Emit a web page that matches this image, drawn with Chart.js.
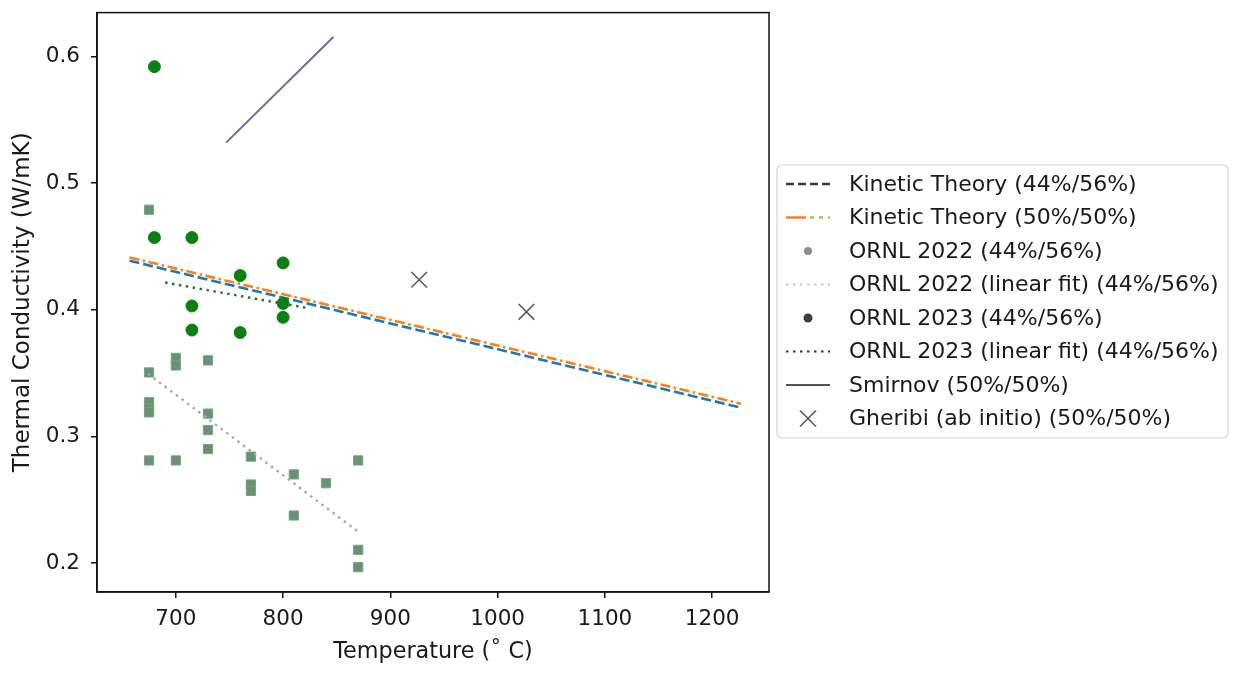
<!DOCTYPE html>
<html>
<head>
<meta charset="utf-8">
<script src="https://cdn.jsdelivr.net/npm/chart.js@4.4.0/dist/chart.umd.min.js"></script>
<style>
  body { margin: 0; background: #fff; }
</style>
</head>
<body>
<canvas id="chart" width="1233" height="673"></canvas>
<script>
// values (temperature in deg C, conductivity in W/mK)
const kineticT = [656.85, 1226.85];
const kinetic4456 = [0.4387, 0.3227];
const kinetic5050 = [0.4413, 0.3258];

const ornl2022T = [675, 675, 675, 675, 675, 675, 700, 700, 700, 730, 730, 730, 730, 770, 770, 770, 810, 810, 840, 870, 870, 870];
const ornl2022K = [0.479, 0.3505, 0.327, 0.322, 0.319, 0.281, 0.362, 0.356, 0.281, 0.360, 0.318, 0.305, 0.290, 0.284, 0.262, 0.257, 0.270, 0.2375, 0.263, 0.281, 0.2104, 0.1967];
const ornl2022FitT = [674, 870];
const ornl2022FitK = [0.3495, 0.2247];

const ornl2023T = [680, 680, 715, 715, 715, 760, 760, 800, 800, 800];
const ornl2023K = [0.592, 0.457, 0.457, 0.403, 0.384, 0.427, 0.382, 0.437, 0.405, 0.394];
const ornl2023FitT = [690, 822];
const ornl2023FitK = [0.4215, 0.4015];

const smirnovT = [746.85, 846.85];
const smirnovK = [0.532, 0.6154];

const gheribiT = [926.85, 1026.85];
const gheribiK = [0.4237, 0.3984];

const xTicks = [700, 800, 900, 1000, 1100, 1200];
const yTicks = [0.2, 0.3, 0.4, 0.5, 0.6];

const labels = [
  'Kinetic Theory (44%/56%)',
  'Kinetic Theory (50%/50%)',
  'ORNL 2022 (44%/56%)',
  'ORNL 2022 (linear fit) (44%/56%)',
  'ORNL 2023 (44%/56%)',
  'ORNL 2023 (linear fit) (44%/56%)',
  'Smirnov (50%/50%)',
  'Gheribi (ab initio) (50%/50%)'
];

const FONT = 'DejaVu Sans';
const FS = 21.5;

function pts(xs, ys) {
  return xs.map((x, i) => ({ x: x, y: ys[i] }));
}

function lineSet(label, xs, ys, color, width, dash, order) {
  return {
    label: label, data: pts(xs, ys), showLine: true, pointRadius: 0,
    borderColor: color, borderWidth: width, borderDash: dash, order: order
  };
}

const datasets = [
  lineSet(labels[0], kineticT, kinetic4456, '#1f77b4', 2.6, [10, 4], 8),
  lineSet(labels[1], kineticT, kinetic5050, '#ff7f0e', 2.6, [10, 3.5, 2.5, 3.5], 7),
  {
    label: labels[2], data: pts(ornl2022T, ornl2022K), pointStyle: 'rect', pointRadius: 6.5,
    backgroundColor: '#6f8e76', borderColor: '#66ad76', borderWidth: 1, order: 6
  },
  lineSet(labels[3], ornl2022FitT, ornl2022FitK, '#9fb0a0', 2.4, [2.5, 4.5], 5),
  {
    label: labels[4], data: pts(ornl2023T, ornl2023K), pointStyle: 'circle', pointRadius: 6,
    backgroundColor: '#0b7f12', borderColor: '#0b7f12', borderWidth: 1, order: 4
  },
  lineSet(labels[5], ornl2023FitT, ornl2023FitK, '#2e6b3a', 2.4, [2.5, 4.5], 3),
  lineSet(labels[6], smirnovT, smirnovK, '#6c6c98', 2, [], 2),
  {
    label: labels[7], data: pts(gheribiT, gheribiK), pointStyle: 'crossRot', pointRadius: 11,
    borderColor: '#5a5a5a', borderWidth: 1.6, order: 1
  }
];

// legend samples as they appear in the picture
const legendSamples = [
  { kind: 'line', color: '#3a3a3a', dash: [8, 4], width: 2.4 },
  { kind: 'kt50' },
  { kind: 'dot', color: '#8e8e8e', r: 4 },
  { kind: 'line', color: '#c8c8c8', dash: [2.5, 4.5], width: 2.2 },
  { kind: 'dot', color: '#3c3c3c', r: 4.5 },
  { kind: 'line', color: '#333333', dash: [2.5, 4.5], width: 2.2 },
  { kind: 'line', color: '#4f4f6a', dash: [], width: 2 },
  { kind: 'x', color: '#5a5a5a' }
];

const framePlugin = {
  id: 'frame',
  afterDraw(chart) {
    const { ctx, chartArea: a } = chart;
    ctx.save();
    ctx.strokeStyle = '#111';
    ctx.lineWidth = 1.5;
    ctx.strokeRect(a.left, a.top, a.right - a.left, a.bottom - a.top);
    ctx.restore();
  }
};

const legendPlugin = {
  id: 'boxLegend',
  afterDraw(chart) {
    const ctx = chart.ctx;
    const bx = 777, by = 165, bw = 451, bh = 273, r = 5;
    ctx.save();
    ctx.beginPath();
    ctx.moveTo(bx + r, by);
    ctx.arcTo(bx + bw, by, bx + bw, by + bh, r);
    ctx.arcTo(bx + bw, by + bh, bx, by + bh, r);
    ctx.arcTo(bx, by + bh, bx, by, r);
    ctx.arcTo(bx, by, bx + bw, by, r);
    ctx.closePath();
    ctx.fillStyle = 'rgba(255,255,255,0.85)';
    ctx.fill();
    ctx.strokeStyle = '#d6d6d6';
    ctx.lineWidth = 1.2;
    ctx.stroke();

    const x0 = 786, x1 = 830, xm = 808, tx = 849;
    ctx.font = '22px "' + FONT + '"';
    ctx.textBaseline = 'middle';
    ctx.textAlign = 'left';
    labels.forEach((lab, i) => {
      const y = 184 + i * 33.5;
      const s = legendSamples[i];
      ctx.setLineDash([]);
      if (s.kind === 'line') {
        ctx.beginPath();
        ctx.setLineDash(s.dash);
        ctx.strokeStyle = s.color;
        ctx.lineWidth = s.width;
        ctx.moveTo(x0, y); ctx.lineTo(x1, y);
        ctx.stroke();
      } else if (s.kind === 'kt50') {
        ctx.beginPath();
        ctx.strokeStyle = '#f07a2a';
        ctx.lineWidth = 2.4;
        ctx.moveTo(x0, y); ctx.lineTo(x0 + 20, y);
        ctx.stroke();
        ctx.beginPath();
        ctx.setLineDash([4, 5]);
        ctx.strokeStyle = '#9ec25a';
        ctx.moveTo(x0 + 24, y); ctx.lineTo(x1, y);
        ctx.stroke();
      } else if (s.kind === 'dot') {
        ctx.beginPath();
        ctx.fillStyle = s.color;
        ctx.arc(xm, y, s.r, 0, Math.PI * 2);
        ctx.fill();
      } else if (s.kind === 'x') {
        ctx.beginPath();
        ctx.strokeStyle = s.color;
        ctx.lineWidth = 1.6;
        ctx.moveTo(xm - 8, y - 8); ctx.lineTo(xm + 8, y + 8);
        ctx.moveTo(xm + 8, y - 8); ctx.lineTo(xm - 8, y + 8);
        ctx.stroke();
      }
      ctx.setLineDash([]);
      ctx.fillStyle = '#1a1a1a';
      ctx.fillText(lab, tx, y + 1);
    });
    ctx.restore();
  }
};

new Chart(document.getElementById('chart'), {
  type: 'scatter',
  data: { datasets: datasets },
  options: {
    responsive: false,
    animation: false,
    events: [],
    layout: { padding: { left: 0, top: 12, right: 464, bottom: 0 } },
    plugins: { legend: { display: false }, tooltip: { enabled: false } },
    scales: {
      x: {
        type: 'linear', min: 626.5, max: 1253,
        afterBuildTicks: s => { s.ticks = xTicks.map(v => ({ value: v })); },
        afterFit: s => { s.height = 81; s.paddingLeft = 0; s.paddingRight = 0; },
        grid: { display: true, drawOnChartArea: false, drawTicks: true, tickLength: 6, color: '#111', lineWidth: 1.5 },
        border: { display: true, color: '#111', width: 1.5 },
        ticks: { padding: 9, color: '#1a1a1a', font: { family: FONT, size: FS }, maxRotation: 0, callback: v => String(v) },
        title: { display: true, text: 'Temperature (\u02da C)', color: '#1a1a1a', font: { family: FONT, size: 22.3 }, padding: { top: 0, bottom: 7 } }
      },
      y: {
        type: 'linear', min: 0.1771, max: 0.6347,
        afterBuildTicks: s => { s.ticks = yTicks.map(v => ({ value: v })); },
        afterFit: s => { s.width = 97; s.paddingTop = 0; s.paddingBottom = 0; },
        grid: { display: true, drawOnChartArea: false, drawTicks: true, tickLength: 6, color: '#111', lineWidth: 1.5 },
        border: { display: true, color: '#111', width: 1.5 },
        ticks: { padding: 11, color: '#1a1a1a', font: { family: FONT, size: FS }, callback: v => v.toFixed(1) },
        title: { display: true, text: 'Thermal Conductivity (W/mK)', color: '#1a1a1a', font: { family: FONT, size: 23 }, padding: { top: 9, bottom: 0 } }
      }
    }
  },
  plugins: [framePlugin, legendPlugin]
});
</script>
</body>
</html>
